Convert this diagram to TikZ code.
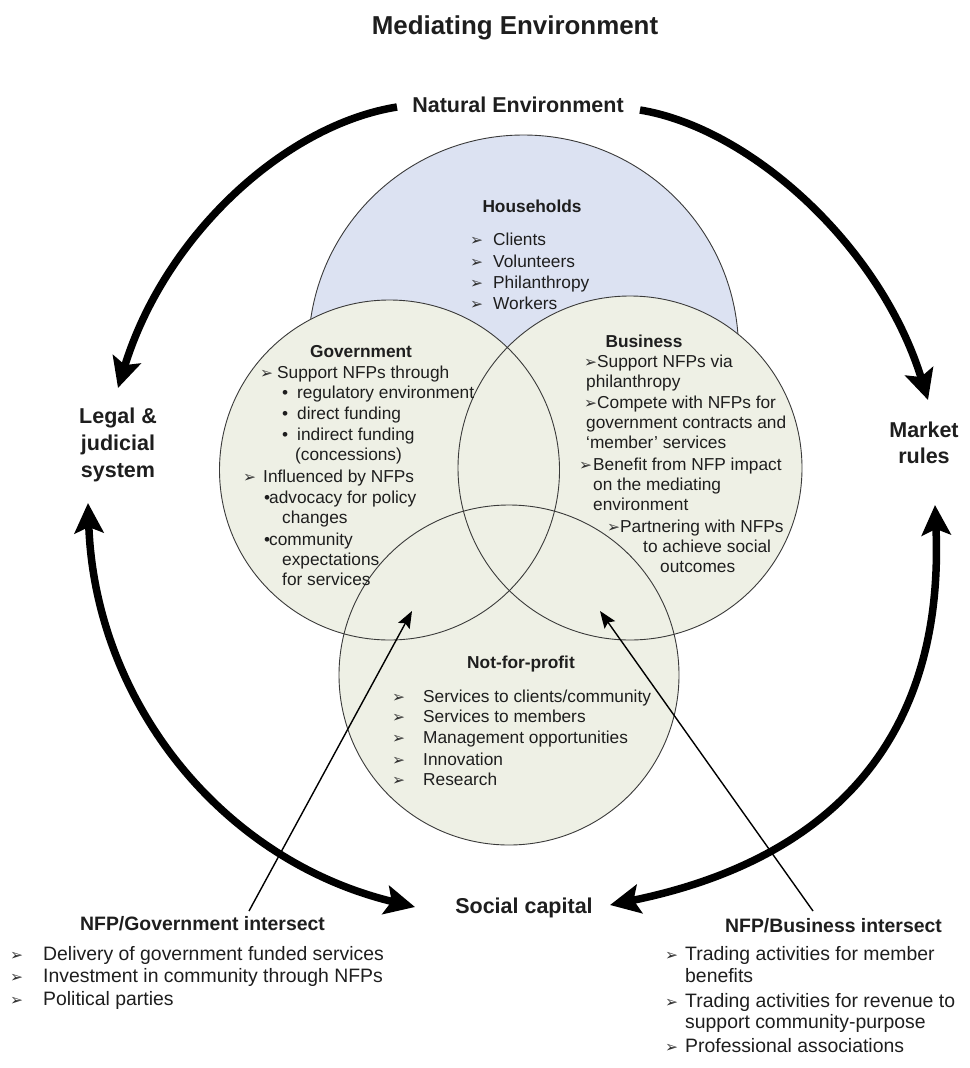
\documentclass[tikz,border=0pt]{standalone}
\usepackage{fontspec}
\setmainfont{Liberation Sans}
\newfontfamily\dvfont{DejaVu Sans}
\usetikzlibrary{arrows.meta}
\definecolor{hhfill}{HTML}{DCE2F2}
\definecolor{cfill}{HTML}{EEF0E5}
\definecolor{edgec}{HTML}{3A3A3A}
\definecolor{textc}{HTML}{1E1E1E}
\definecolor{mkc}{HTML}{303030}
\newcommand\mkglyph{{\dvfont\fontsize{15.5}{15.5}\selectfont\color{mkc}➢}}
\newcommand\mkat[1]{\llap{\makebox[#1pt][l]{\mkglyph}}}
\newcommand\blat[1]{\llap{\makebox[#1pt][l]{\textbullet}}}
\tikzset{
  ct/.style={font=\fontsize{17.3}{21}\selectfont, text=textc, inner sep=0pt, anchor=base west},
  ch/.style={font=\bfseries\fontsize{17.3}{21}\selectfont, text=textc, inner sep=0pt, anchor=base},
  bt/.style={font=\fontsize{19.4}{23}\selectfont, text=textc, inner sep=0pt, anchor=base west},
  bh/.style={font=\bfseries\fontsize{19.4}{23}\selectfont, text=textc, inner sep=0pt, anchor=base},
  biglab/.style={font=\bfseries\fontsize{21.5}{26}\selectfont, text=textc, inner sep=0pt, anchor=base},
  circedge/.style={draw=edgec, line width=0.9pt},
  thickarr/.style={line width=7.5pt, draw=black, -{Stealth[length=30pt,width=29pt,inset=6pt]}},
  thickdbl/.style={line width=7.5pt, draw=black, {Stealth[length=30pt,width=29pt,inset=6pt]}-{Stealth[length=30pt,width=29pt,inset=6pt]}},
  thinarr/.style={line width=1.4pt, draw=black, -{Stealth[length=17pt,width=13pt,inset=3pt]}}
}
\begin{document}
\begin{tikzpicture}[x=1pt,y=-1pt]
\fill[white] (0,0) rectangle (969,1068);
\useasboundingbox (0,0) rectangle (969,1068);

% circle centres
\coordinate (hhc) at (523.5,350);
\coordinate (gvc) at (389.5,470);
\coordinate (bzc) at (630,468);
\coordinate (nfc) at (509,675);

% circles
\fill[hhfill] (hhc) circle[radius=215pt];
\draw[circedge] (hhc) circle[radius=215pt];
\fill[cfill] (gvc) circle[radius=170pt];
\fill[cfill] (bzc) circle[radius=172pt];
\fill[cfill] (nfc) circle[radius=170pt];
\draw[circedge] (gvc) circle[radius=170pt];
\draw[circedge] (bzc) circle[radius=172pt];
\draw[circedge] (nfc) circle[radius=170pt];

% title and outer labels
\node[biglab, font=\bfseries\fontsize{25.9}{30}\selectfont] (title) at (515,34) {Mediating Environment};
\node[biglab] (nat) at (518,112) {Natural Environment};
\node[biglab] (lg1) at (118,423) {Legal \&};
\node[biglab] (lg2) at (118,450) {judicial};
\node[biglab] (lg3) at (118,477) {system};
\node[biglab] (mr1) at (924,437) {Market};
\node[biglab] (mr2) at (924,463) {rules};
\node[biglab] (soc) at (524,913) {Social capital};

% Households
\node[ch] (hh) at (532,212) {Households};
\node[ct] (hh1) at (493,245) {\mkat{23}Clients};
\node[ct] (hh2) at (493,267) {\mkat{23}Volunteers};
\node[ct] (hh3) at (493,288) {\mkat{23}Philanthropy};
\node[ct] (hh4) at (493,309) {\mkat{23}Workers};

% Government
\node[ch] (gv) at (361,357) {Government};
\node[ct] (gv1) at (277,378) {\mkat{17}Support NFPs through};
\node[ct] (gv2) at (297,398) {\blat{15}regulatory environment};
\node[ct] (gv3) at (297,419) {\blat{15}direct funding};
\node[ct] (gv4) at (297,440) {\blat{15}indirect funding};
\node[ct] (gv5) at (295,460) {(concessions)};
\node[ct] (gv6) at (263,482) {\mkat{20}Influenced by NFPs};
\node[ct] (gv7) at (269,503) {\blat{5}advocacy for policy};
\node[ct] (gv8) at (282,523) {changes};
\node[ct] (gv9) at (269,545) {\blat{5}community};
\node[ct] (gv10) at (282,565) {expectations};
\node[ct] (gv11) at (282,585) {for services};

% Business
\node[ch] (bz) at (644,347) {Business};
\node[ct] (bz1) at (597,367) {\mkat{13}Support NFPs via};
\node[ct] (bz2) at (586,387) {philanthropy};
\node[ct] (bz3) at (597,408) {\mkat{13}Compete with NFPs for};
\node[ct] (bz4) at (586,428) {government contracts and};
\node[ct] (bz5) at (586,448) {‘member’ services};
\node[ct] (bz6) at (593,470) {\mkat{14}Benefit from NFP impact};
\node[ct] (bz7) at (593,490) {on the mediating};
\node[ct] (bz8) at (593,510) {environment};
\node[ct] (bz9) at (620,532) {\mkat{13}Partnering with NFPs};
\node[ct] (bz10) at (643,552) {to achieve social};
\node[ct] (bz11) at (660,572) {outcomes};

% Not-for-profit
\node[ch] (nf) at (521,668) {Not-for-profit};
\node[ct] (nf1) at (423,702) {\mkat{31}Services to clients/community};
\node[ct] (nf2) at (423,722) {\mkat{31}Services to members};
\node[ct] (nf3) at (423,743) {\mkat{31}Management opportunities};
\node[ct] (nf4) at (423,765) {\mkat{31}Innovation};
\node[ct] (nf5) at (423,785) {\mkat{31}Research};

% bottom left block
\node[bh] (ngi) at (202.5,930) {NFP/Government intersect};
\node[bt] (ng1) at (43,960) {\mkat{33}Delivery of government funded services};
\node[bt] (ng2) at (43,982) {\mkat{33}Investment in community through NFPs};
\node[bt] (ng3) at (43,1005) {\mkat{33}Political parties};

% bottom right block
\node[bh] (nbi) at (833.5,932) {NFP/Business intersect};
\node[bt] (nb1) at (685,960) {\mkat{20}Trading activities for member};
\node[bt] (nb2) at (685,982) {benefits};
\node[bt] (nb3) at (685,1007) {\mkat{20}Trading activities for revenue to};
\node[bt] (nb4) at (685,1028) {support community-purpose};
\node[bt] (nb5) at (685,1052) {\mkat{20}Professional associations};

% big cycle arrows
\coordinate (a1s) at (397,107);
\coordinate (a1e) at (118,388);
\coordinate (a2s) at (640,110);
\coordinate (a2e) at (928,400);
\coordinate (a3s) at (88,503);
\coordinate (a3e) at (415,907);
\coordinate (a4s) at (935,505);
\coordinate (a4e) at (610,905);
\draw[thickarr] (a1s) .. controls (285,125) and (165,235) .. (a1e);
\draw[thickarr] (a2s) .. controls (750,128) and (880,245) .. (a2e);
\draw[thickdbl] (a3s) .. controls (95,700) and (220,860) .. (a3e);
\draw[thickdbl] (a4s) .. controls (945,740) and (830,860) .. (a4e);

% intersect pointers
\coordinate (gis) at (249,911);
\coordinate (gie) at (412,611);
\coordinate (bis) at (813,911);
\coordinate (bie) at (600,611);
\draw[thinarr] (gis) -- (gie);
\draw[thinarr] (bis) -- (bie);
\end{tikzpicture}
\end{document}
